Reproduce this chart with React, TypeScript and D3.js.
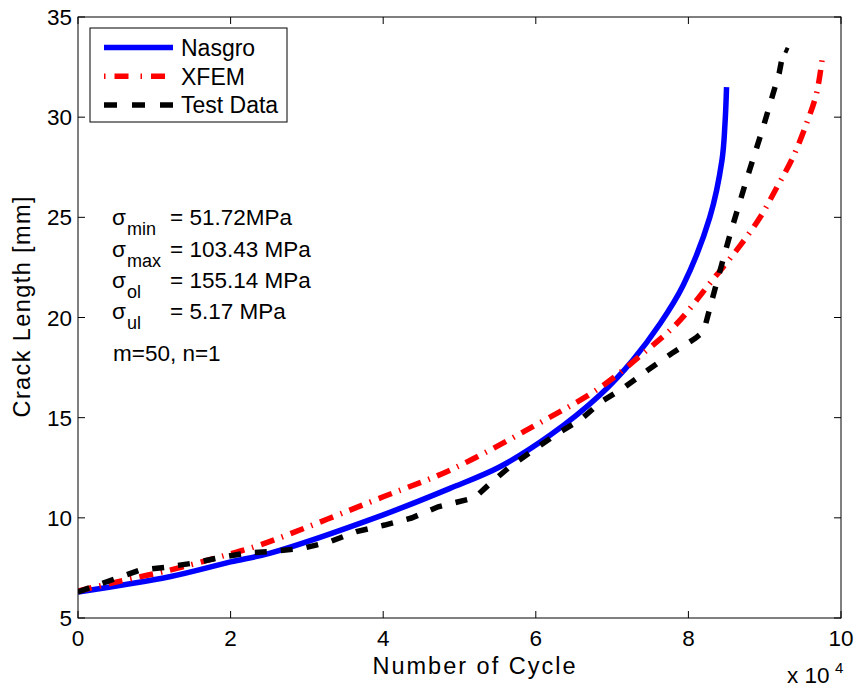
import React from "react";
import * as d3 from "d3";

const nasgroX = [0, 1.2, 2, 2.52, 4, 4.875, 5.53, 6.19, 6.84, 7.27, 7.63, 7.93, 8.28, 8.44, 8.48, 8.5];
const nasgroY = [6.3, 7.06, 7.8, 8.24, 10.15, 11.47, 12.55, 14.13, 16.13, 17.87, 19.7, 21.6, 25.0, 27.85, 29.7, 31.5];

const xfemX = [0, 0.68, 1.16, 1.95, 2.39, 4.0, 4.875, 5.96, 6.84, 7.45, 7.85, 8.28, 8.68, 8.94, 9.16, 9.37, 9.55, 9.68, 9.76];
const xfemY = [6.35, 6.95, 7.35, 8.15, 8.65, 11.05, 12.38, 14.55, 16.5, 18.35, 19.7, 21.7, 23.6, 25.0, 26.5, 28.0, 29.7, 31.2, 33.1];

const testX = [0, 0.8, 1.16, 1.51, 1.88, 2.23, 2.52, 2.95, 3.3, 3.65, 4.02, 4.37, 4.72, 5.2, 5.38, 5.66, 5.97, 6.25, 6.58, 6.86, 7.17, 7.47, 7.78, 8.09, 8.2, 8.35, 8.55, 8.76, 8.98, 9.19, 9.25, 9.31];
const testY = [6.3, 7.38, 7.54, 7.74, 8.03, 8.26, 8.31, 8.48, 8.81, 9.31, 9.64, 9.99, 10.55, 11.0, 11.64, 12.55, 13.38, 14.13, 14.88, 15.8, 16.54, 17.38, 18.2, 18.96, 19.3, 21.45, 24.2, 26.86, 29.5, 32.2, 33.4, 33.3];

const xTicks = [0, 2, 4, 6, 8, 10];
const yTicks = [5, 10, 15, 20, 25, 30, 35];
const legendNames = ["Nasgro", "XFEM", "Test Data"];
const annotations = [
  { sub: "min", text: "= 51.72MPa" },
  { sub: "max", text: "= 103.43 MPa" },
  { sub: "ol", text: "= 155.14 MPa" },
  { sub: "ul", text: "= 5.17 MPa" },
];
const extraNote = "m=50, n=1";

const FONT = "'Liberation Sans', Arial, Helvetica, sans-serif";

export default function App() {
  const W = 857, H = 692;
  const left = 78, right = 841, top = 17, bottom = 618;
  const x = d3.scaleLinear().domain([0, 10]).range([left, right]);
  const y = d3.scaleLinear().domain([5, 35]).range([bottom, top]);

  const mk = (xs: number[], ys: number[], curve: any) =>
    d3.line<number>().x((d, i) => x(xs[i])).y((d, i) => y(ys[i])).curve(curve)(xs) || "";

  const nasPath = mk(nasgroX, nasgroY, d3.curveCatmullRom.alpha(0.5));
  const xfemPath = mk(xfemX, xfemY, d3.curveCatmullRom.alpha(0.5));
  const testPath = mk(testX, testY, d3.curveLinear);

  const styles = [
    { stroke: "#0000ff", dash: "none" },
    { stroke: "#ff0000", dash: "14,8,1.5,8" },
    { stroke: "#000000", dash: "12,14" },
  ];
  const lw = 5.5;
  const tickLen = 7;
  const fs = 22.5;

  const annBase = [225, 256.5, 287.5, 318.5];

  return (
    <svg width={W} height={H} style={{ position: "absolute", left: 0, top: 0, background: "#fff" }} fontFamily={FONT}>
      <rect x={0} y={0} width={W} height={H} fill="#fff" />
      <defs>
        <clipPath id="plotclip">
          <rect x={left} y={top} width={right - left} height={bottom - top} />
        </clipPath>
      </defs>
      <g clipPath="url(#plotclip)">
        <path d={nasPath} fill="none" stroke={styles[0].stroke} strokeWidth={lw} />
        <path d={xfemPath} fill="none" stroke={styles[1].stroke} strokeWidth={lw} strokeDasharray={styles[1].dash} />
        <path d={testPath} fill="none" stroke={styles[2].stroke} strokeWidth={lw} strokeDasharray={styles[2].dash} />
      </g>
      <rect x={left} y={top} width={right - left} height={bottom - top} fill="none" stroke="#000" strokeWidth={1} />
      {xTicks.map((t) => (
        <g key={"xt" + t}>
          <line x1={x(t)} x2={x(t)} y1={bottom} y2={bottom - tickLen} stroke="#000" />
          <line x1={x(t)} x2={x(t)} y1={top} y2={top + tickLen} stroke="#000" />
          <text x={x(t)} y={bottom + 28} fontSize={fs} textAnchor="middle" fill="#000">{t}</text>
        </g>
      ))}
      {yTicks.map((t) => (
        <g key={"yt" + t}>
          <line x1={left} x2={left + tickLen} y1={y(t)} y2={y(t)} stroke="#000" />
          <line x1={right} x2={right - tickLen} y1={y(t)} y2={y(t)} stroke="#000" />
          <text x={left - 6} y={y(t) + 8} fontSize={fs} textAnchor="end" fill="#000">{t}</text>
        </g>
      ))}
      <text x={787} y={683} fontSize={fs} fill="#000">x 10</text>
      <text x={835} y={673} fontSize={15} fill="#000">4</text>
      <text x={474} y={674} fontSize={23.5} textAnchor="middle" textLength={203} lengthAdjust="spacing" fill="#000">Number of Cycle</text>
      <text transform={`translate(30,307) rotate(-90)`} fontSize={23.5} textAnchor="middle" textLength={221} lengthAdjust="spacing" fill="#000">Crack Length [mm]</text>

      {annotations.map((a, i) => {
        const base = annBase[i];
        return (
          <g key={"an" + i}>
            <text x={112} y={base} fontSize={fs} fill="#000">σ</text>
            <text x={127} y={base + 10} fontSize={18} fill="#000">{a.sub}</text>
            <text x={170} y={base} fontSize={fs} fill="#000">{a.text}</text>
          </g>
        );
      })}
      <text x={113} y={361} fontSize={fs} fill="#000">{extraNote}</text>

      <rect x={90} y={28} width={197} height={94} fill="#fff" stroke="#000" strokeWidth={1} />
      {legendNames.map((n, i) => {
        const ly = 47.5 + i * 28.7;
        return (
          <g key={"lg" + i}>
            <line x1={104} x2={173} y1={ly} y2={ly} stroke={styles[i].stroke} strokeWidth={lw}
              strokeDasharray={styles[i].dash === "none" ? undefined : i === 1 ? "1.5,9,14,12" : "13,15"} />
            <text x={181} y={ly + 8.5} fontSize={23} fill="#000">{n}</text>
          </g>
        );
      })}
    </svg>
  );
}
